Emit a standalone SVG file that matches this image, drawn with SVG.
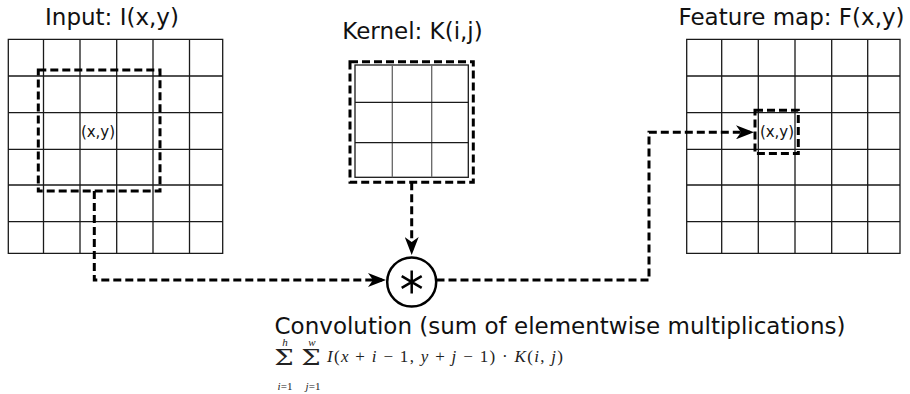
<svg xmlns="http://www.w3.org/2000/svg" width="910" height="394" viewBox="0 0 910 394">
<style>
.bg{fill:#fff}
.grid{stroke:#1a1a1a;stroke-width:1.3;fill:none}
.gridg{stroke:#666;stroke-width:1.3;fill:none}
.dash{stroke:#000;stroke-width:3;stroke-dasharray:8 4;fill:none}
.title{font-family:"DejaVu Sans",sans-serif;font-size:23px;fill:#111;text-anchor:middle}
.lbl{font-family:"DejaVu Sans",sans-serif;font-size:15px;fill:#111;text-anchor:middle}
.math{font-family:"Liberation Serif","DejaVu Serif",serif;fill:#222}
.sum{font-family:"DejaVu Serif",serif;font-size:22px;fill:#222;text-anchor:middle}
</style>
<defs>
<marker id="arr" viewBox="0 0 18 14" refX="14" refY="7" markerWidth="18" markerHeight="14" markerUnits="userSpaceOnUse" orient="auto">
<path d="M0,0 L18,7 L0,14 L5,7 z" fill="#000"/>
</marker>
</defs>
<rect class="bg" x="0" y="0" width="910" height="394"/>
<g id="input">
<text class="title" x="112" y="25">Input: I(x,y)</text>
<path class="grid" d="M8.3,39.3 H222.7 V253.3 H8.3 Z M43.5,39.3 V253.3 M80,39.3 V253.3 M116.7,39.3 V253.3 M153,39.3 V253.3 M189.5,39.3 V253.3 M8.3,76 H222.7 M8.3,112.7 H222.7 M8.3,149.3 H222.7 M8.3,185 H222.7 M8.3,221.7 H222.7"/>
<rect class="dash" x="38.3" y="70" width="121.7" height="121"/>
<text class="lbl" x="98" y="136.5">(x,y)</text>
</g>
<g id="kernel">
<text class="title" x="412.5" y="39">Kernel: K(i,j)</text>
<rect class="grid" x="355" y="65" width="113.3" height="112.3"/>
<path class="gridg" d="M392.3,65 V177.3 M431.7,65 V177.3"/>
<path class="grid" d="M355,102.3 H468.3 M355,142.7 H468.3"/>
<rect class="dash" x="350" y="61.7" width="123.3" height="120.6"/>
</g>
<g id="feature">
<text class="title" x="791.5" y="25">Feature map: F(x,y)</text>
<path class="grid" d="M686.7,39.3 H900 V253.3 H686.7 Z M721.7,39.3 V253.3 M758.3,39.3 V253.3 M795,39.3 V253.3 M831.7,39.3 V253.3 M867.7,39.3 V253.3 M686.7,76 H900 M686.7,112.7 H900 M686.7,149.3 H900 M686.7,185 H900 M686.7,221.7 H900"/>
<rect class="dash" x="755" y="110.3" width="43.3" height="43.3"/>
<text class="lbl" x="777" y="137">(x,y)</text>
</g>
<g id="conv">
<circle cx="411.7" cy="282" r="24.5" fill="#fff" stroke="#000" stroke-width="2.5"/>
<path d="M411.7,270.5 V293.5 M401.7,276.2 L421.7,287.8 M401.7,287.8 L421.7,276.2" stroke="#000" stroke-width="2.5" fill="none"/>
<text class="title" x="560" y="334">Convolution (sum of elementwise multiplications)</text>
</g>
<g id="formula">
<text class="sum" x="284" y="365" transform="translate(-71,0) scale(1.25,1)">Σ</text>
<text class="sum" x="311" y="365" transform="translate(-77.75,0) scale(1.25,1)">Σ</text>
<text class="math" x="285" y="346" font-size="11" font-style="italic" text-anchor="middle">h</text>
<text class="math" x="312" y="346" font-size="11" font-style="italic" text-anchor="middle">w</text>
<text class="math" x="285" y="390" font-size="11" text-anchor="middle"><tspan font-style="italic">i</tspan>=1</text>
<text class="math" x="313" y="390" font-size="11" text-anchor="middle"><tspan font-style="italic">j</tspan>=1</text>
<text class="math" x="327" y="362" font-size="17" textLength="236" lengthAdjust="spacing"><tspan font-style="italic">I</tspan>(<tspan font-style="italic">x</tspan> + <tspan font-style="italic">i</tspan> − 1, <tspan font-style="italic">y</tspan> + <tspan font-style="italic">j</tspan> − 1) · <tspan font-style="italic">K</tspan>(<tspan font-style="italic">i</tspan>, <tspan font-style="italic">j</tspan>)</text>
</g>
<g id="connectors">
<path class="dash" d="M94.3,191 V280 H382" marker-end="url(#arr)"/>
<path class="dash" d="M411.7,182.3 V251" marker-end="url(#arr)"/>
<path class="dash" d="M436.5,280 H649 V132.3 H750" marker-end="url(#arr)"/>
</g>
</svg>
